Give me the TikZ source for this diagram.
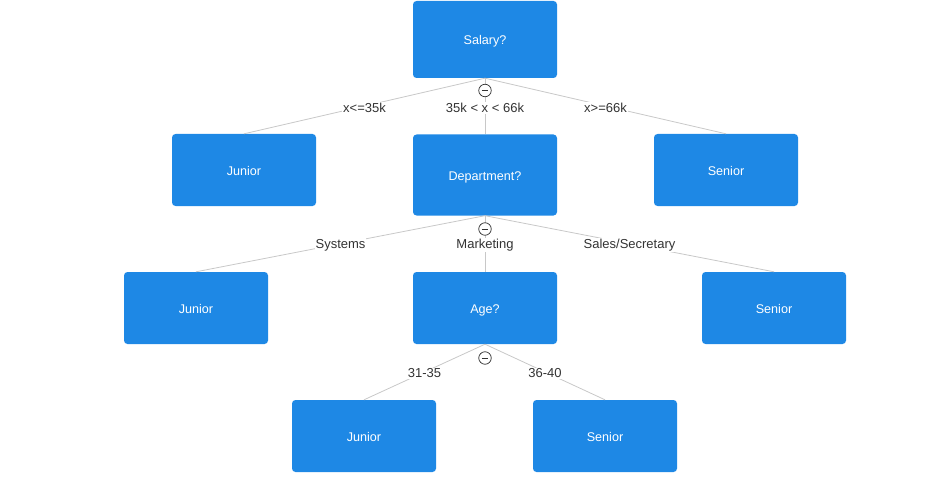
\documentclass[tikz,border=0pt]{standalone}
\usepackage{fontspec}
\setmainfont{Liberation Sans}
\begin{document}
\begin{tikzpicture}[x=1pt,y=-1pt,
  box/.style={draw=none,fill=boxblue,rounded corners=3.5pt,minimum width=144pt,minimum height=72pt,text=white,font=\fontsize{12.6}{14}\selectfont,inner sep=0pt,text height=13pt,text depth=2pt},
  tall/.style={box,minimum height=81pt},
  top/.style={box,minimum height=77pt},
  edge/.style={draw=edgegray,line width=0.8pt},
  lbl/.style={fill=white,inner sep=1pt,text=labeltext,font=\fontsize{13}{14}\selectfont,yshift=-1.5pt},
  tog/.style={circle,draw=labeltext,fill=white,line width=0.75pt,minimum size=12.5pt,inner sep=0pt}
]
\definecolor{boxblue}{HTML}{1E88E5}
\definecolor{edgegray}{HTML}{C8C8C8}
\definecolor{labeltext}{HTML}{333333}
\useasboundingbox (0,0) rectangle (941,489);
% nodes
\node[top] (sal) at (485,39.5) {Salary?};
\node[box] (j1) at (244,170) {Junior};
\node[tall] (dep) at (485,175) {Department?};
\node[box] (s1) at (726,170) {Senior};
\node[box] (j2) at (196,308) {Junior};
\node[box] (age) at (485,308) {Age?};
\node[box] (s2) at (774,308) {Senior};
\node[box] (j3) at (364,436) {Junior};
\node[box] (s3) at (605,436) {Senior};
% edges
\draw[edge] (sal.south) -- node[lbl] {x<=35k} (j1.north);
\draw[edge] (sal.south) -- node[lbl] {35k < x < 66k} (dep.north);
\draw[edge] (sal.south) -- node[lbl] {x>=66k} (s1.north);
\draw[edge] (dep.south) -- node[lbl] {Systems} (j2.north);
\draw[edge] (dep.south) -- node[lbl] {Marketing} (age.north);
\draw[edge] (dep.south) -- node[lbl] {Sales/Secretary} (s2.north);
\draw[edge] (age.south) -- node[lbl] {31-35} (j3.north);
\draw[edge] (age.south) -- node[lbl] {36-40} (s3.north);
% collapse toggles
\foreach \n/\y in {t1/90.5, t2/229, t3/358} {
  \node[tog] (\n) at (485,\y) {};
  \draw[labeltext,line width=0.9pt] ([xshift=-3.2pt]\n.center) -- ([xshift=3.2pt]\n.center);
}
\end{tikzpicture}
\end{document}
